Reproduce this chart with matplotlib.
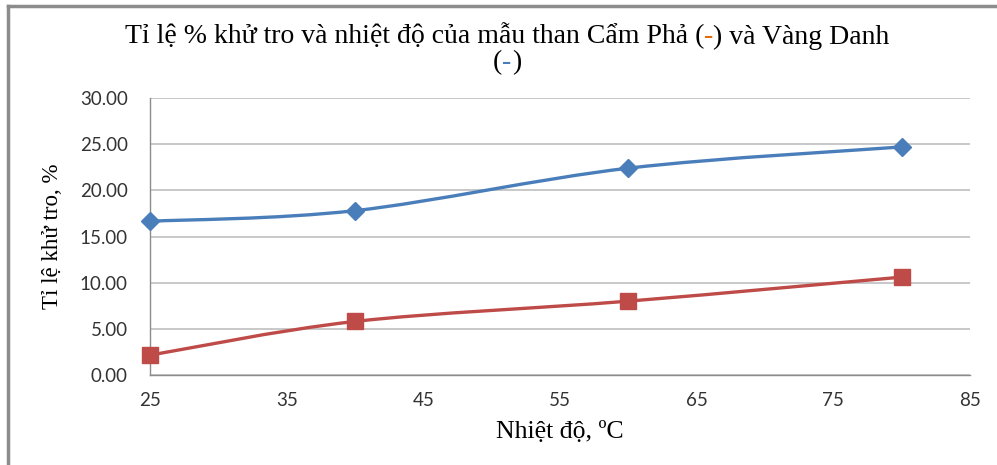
import matplotlib
matplotlib.use("Agg")
import matplotlib.pyplot as plt
from matplotlib.path import Path
from matplotlib.patches import PathPatch

temps = [25, 40, 60, 80]
vang_danh = [16.65, 17.8, 22.4, 24.7]
cam_pha = [2.15, 5.8, 8.0, 10.6]
x_ticks = [25, 35, 45, 55, 65, 75, 85]
y_ticks = [0, 5, 10, 15, 20, 25, 30]

title_parts = ["Tỉ lệ % khử tro và nhiệt độ của mẫu than Cẩm Phả (", "-", ") và Vàng Danh"]
title_line2 = ["(", "-", ")"]
y_label = "Tỉ lệ khử tro, %"
x_label = "Nhiệt độ, ºC"

BLUE = "#4A7EBB"
RED = "#BE4B48"
ORANGE = "#E46C0A"
SERIF = ["Liberation Serif", "DejaVu Serif"]
TICKFONT = ["Lato", "DejaVu Sans"]

fig = plt.figure(figsize=(9.97, 4.65), dpi=100)
ax = fig.add_axes([150 / 997, 1 - 375 / 465, 820 / 997, 277 / 465])


def smooth_path(xs, ys):
    pts = list(zip(xs, ys))
    n = len(pts)
    verts = [pts[0]]
    codes = [Path.MOVETO]
    for i in range(n - 1):
        p0 = pts[i - 1] if i > 0 else pts[i]
        p1 = pts[i]
        p2 = pts[i + 1]
        p3 = pts[i + 2] if i + 2 < n else pts[i + 1]
        c1 = (p1[0] + (p2[0] - p0[0]) / 6, p1[1] + (p2[1] - p0[1]) / 6)
        c2 = (p2[0] - (p3[0] - p1[0]) / 6, p2[1] - (p3[1] - p1[1]) / 6)
        verts += [c1, c2, p2]
        codes += [Path.CURVE4] * 3
    return Path(verts, codes)


for ys, color, marker, ms in [(vang_danh, BLUE, "D", 9.5), (cam_pha, RED, "s", 12)]:
    patch = PathPatch(smooth_path(temps, ys), facecolor="none", edgecolor=color,
                      lw=2.4, zorder=3, capstyle="round", joinstyle="round")
    ax.add_patch(patch)
    ax.plot(temps, ys, linestyle="none", marker=marker, markersize=ms,
            color=color, markeredgecolor=color, zorder=4, clip_on=False)

ax.set_xlim(25, 85)
ax.set_ylim(0, 30)
ax.set_xticks(x_ticks)
ax.set_yticks(y_ticks)
ax.set_yticklabels([f"{v:.2f}" for v in y_ticks])
ax.grid(axis="y", color="#BFBFBF", lw=1.2)
ax.set_axisbelow(True)
for s in ["top", "right"]:
    ax.spines[s].set_visible(False)
for s in ["left", "bottom"]:
    ax.spines[s].set_color("#8C8C8C")
    ax.spines[s].set_linewidth(1.0)
ax.tick_params(axis="both", length=0, labelsize=13.5)
ax.tick_params(axis="y", pad=16)
ax.tick_params(axis="x", pad=12)
for lab in ax.get_xticklabels() + ax.get_yticklabels():
    lab.set_family(TICKFONT)
    lab.set_color("#333333")

fig.text(53 / 997, 1 - 236.5 / 465, y_label, rotation=90, ha="center", va="center",
         family=SERIF, fontsize=16.5)
fig.text(560 / 997, 1 - 438 / 465, x_label, ha="center", va="baseline",
         family=SERIF, fontsize=18.5)


def colored_line(parts, colors, baseline, size):
    texts = []
    for p, c in zip(parts, colors):
        texts.append(fig.text(0, 0, p, color=c, family=SERIF, fontsize=size, va="baseline"))
    fig.canvas.draw()
    r = fig.canvas.get_renderer()
    widths = [t.get_window_extent(r).width for t in texts]
    total = sum(widths)
    x = (507 - total / 2)
    for t, w in zip(texts, widths):
        t.set_position((x / 997, 1 - baseline / 465))
        x += w


colored_line(title_parts, ["black", ORANGE, "black"], 43.5, 20)
colored_line(title_line2, ["black", BLUE, "black"], 69, 20)

# outer chart frame
fig.add_artist(plt.Line2D([8 / 997, 8 / 997], [0, 1 - 6.5 / 465], transform=fig.transFigure,
                          color="#8C8C8C", lw=2.5))
fig.add_artist(plt.Line2D([8 / 997, 1], [1 - 6.5 / 465, 1 - 6.5 / 465], transform=fig.transFigure,
                          color="#8C8C8C", lw=2.5))

fig.savefig("out.png", dpi=100, facecolor="white")
